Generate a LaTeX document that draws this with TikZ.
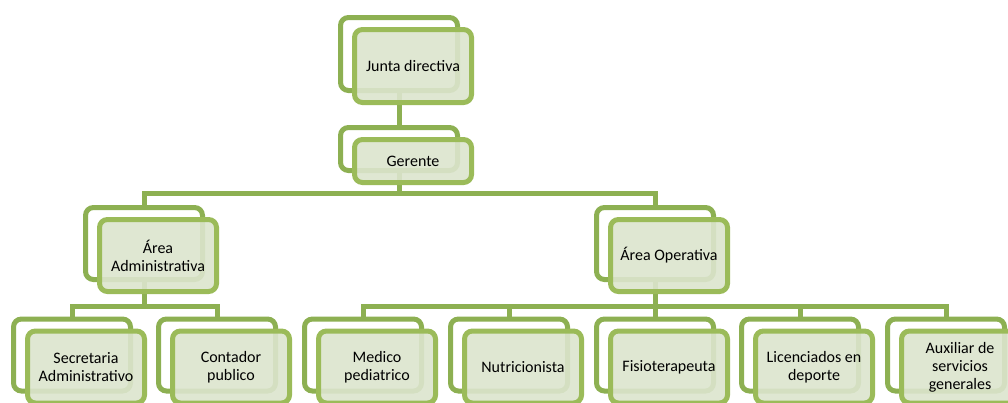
\documentclass[tikz,border=0pt]{standalone}
\usepackage{fontspec}
\setmainfont{Carlito}
\definecolor{gline}{HTML}{8DB052}
\definecolor{gfront}{HTML}{9BBB59}
\definecolor{gfill}{HTML}{DCE5CE}
\tikzset{
  backbox/.style={draw=gline, line width=5pt, rounded corners=8pt, minimum width=117pt, inner sep=0pt},
  frontbox/.style={draw=gfront, line width=5pt, rounded corners=8pt, minimum width=117pt, inner sep=0pt,
    fill=gfill, fill opacity=0.9, text opacity=1, align=center, text=black,
    font=\fontsize{16}{18}\selectfont},
  conn/.style={draw=gline, line width=5pt},
}
\begin{document}
\begin{tikzpicture}[x=1pt,y=-1pt]
\useasboundingbox (0,0) rectangle (1008,402);
\clip (0,0) rectangle (1008,402);
\fill[white] (0,0) rectangle (1008,402);
% back boxes
\node[backbox, minimum height=73pt] (jb) at (399,54) {};
\node[backbox, minimum height=43pt] (gb) at (399,149) {};
\node[backbox, minimum height=72pt] (aab) at (144,243.5) {};
\node[backbox, minimum height=72pt] (aob) at (655,243.5) {};
\node[backbox, minimum height=72pt] (secb) at (72,355) {};
\node[backbox, minimum height=72pt] (conb) at (217,355) {};
\node[backbox, minimum height=72pt] (medb) at (363,355) {};
\node[backbox, minimum height=72pt] (nutb) at (509,355) {};
\node[backbox, minimum height=72pt] (fisb) at (655,355) {};
\node[backbox, minimum height=72pt] (licb) at (800,355) {};
\node[backbox, minimum height=72pt] (auxb) at (946,355) {};
% connectors
\coordinate (bus1) at (399,193);
\coordinate (bus2) at (144,306);
\coordinate (bus3) at (655,306);
\draw[conn] (jb.south) -- (gb.north);
\draw[conn] (gb.south) -- (bus1);
\draw[conn] (aab.north) |- (bus1) -| (aob.north);
\draw[conn] (aab.south) -- (bus2);
\draw[conn] (secb.north) |- (bus2) -| (conb.north);
\draw[conn] (aob.south) -- (bus3);
\draw[conn] (medb.north) |- (bus3) -| (auxb.north);
\draw[conn] (nutb.north) -- (nutb.north |- bus3);
\draw[conn] (fisb.north) -- (bus3);
\draw[conn] (licb.north) -- (licb.north |- bus3);
% front boxes
\node[frontbox, minimum height=73pt] (j) at (413,66) {Junta directiva};
\node[frontbox, minimum height=43pt] (g) at (413,161) {Gerente};
\node[frontbox, minimum height=72pt] (aa) at (158,255.5) {Área\\Administrativa};
\node[frontbox, minimum height=72pt] (ao) at (669,255.5) {Área Operativa};
\node[frontbox, minimum height=72pt] (sec) at (86,367) {Secretaria\\Administrativo};
\node[frontbox, minimum height=72pt] (con) at (231,367) {Contador\\publico};
\node[frontbox, minimum height=72pt] (med) at (377,367) {Medico\\pediatrico};
\node[frontbox, minimum height=72pt] (nut) at (523,367) {Nutricionista};
\node[frontbox, minimum height=72pt] (fis) at (669,367) {Fisioterapeuta};
\node[frontbox, minimum height=72pt] (lic) at (814,367) {Licenciados en\\deporte};
\node[frontbox, minimum height=72pt] (aux) at (960,367) {Auxiliar de\\servicios\\generales};
\end{tikzpicture}
\end{document}
